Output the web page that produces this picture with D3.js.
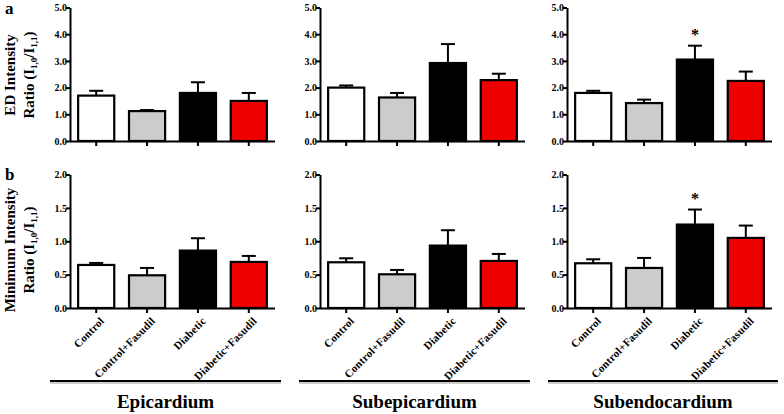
<!DOCTYPE html>
<html>
<head>
<meta charset="utf-8">
<script src="https://cdn.jsdelivr.net/npm/d3@7"></script>
<style>
html,body{margin:0;padding:0;background:#fff;}
text{font-family:"Liberation Serif","Times New Roman",serif;font-weight:bold;}
</style>
</head>
<body>
<svg id="chart" width="784" height="414"></svg>
<script>
// ---------- data ----------
const categories = ["Control", "Control+Fasudil", "Diabetic", "Diabetic+Fasudil"];
const regions = ["Epicardium", "Subepicardium", "Subendocardium"];
const barColors = ["#ffffff", "#cccccc", "#000000", "#ee0000"];

// Row a: ED intensity ratio (mean, upper error)
const edMean = {
  Epicardium:     [1.70, 1.12, 1.80, 1.50],
  Subepicardium:  [2.00, 1.63, 2.92, 2.28],
  Subendocardium: [1.80, 1.42, 3.05, 2.25]
};
const edErr = {
  Epicardium:     [1.88, 1.16, 2.20, 1.80],
  Subepicardium:  [2.08, 1.80, 3.63, 2.52],
  Subendocardium: [1.88, 1.55, 3.57, 2.60]
};
// Row b: minimum intensity ratio
const minMean = {
  Epicardium:     [0.645, 0.49, 0.86, 0.69],
  Subepicardium:  [0.685, 0.505, 0.935, 0.705],
  Subendocardium: [0.67, 0.60, 1.25, 1.05]
};
const minErr = {
  Epicardium:     [0.675, 0.60, 1.045, 0.78],
  Subepicardium:  [0.745, 0.57, 1.165, 0.81],
  Subendocardium: [0.73, 0.75, 1.475, 1.235]
};
const edTicks = [0, 1, 2, 3, 4, 5];
const minTicks = [0, 0.5, 1.0, 1.5, 2.0];
// significance markers: [region, category index]
const edStars = [["Subendocardium", 2]];
const minStars = [["Subendocardium", 2]];

// ---------- layout ----------
const svg = d3.select("#chart");
const axisXs = [70, 320, 567];
const plotW = 205;
const rows = [
  {mean: edMean, err: edErr, ticks: edTicks, domain: [0, 5], range: [141, 7.5], fmt: d3.format(".1f"), stars: edStars, labels: false},
  {mean: minMean, err: minErr, ticks: minTicks, domain: [0, 2], range: [308, 174.5], fmt: d3.format(".1f"), stars: minStars, labels: true}
];

rows.forEach(row => {
  const y = d3.scaleLinear().domain(row.domain).range(row.range);
  regions.forEach((reg, ci) => {
    const x0 = axisXs[ci];
    const x = d3.scaleBand().domain(categories).range([x0, x0 + plotW])
      .paddingInner(0.29).paddingOuter(0.16);
    const g = svg.append("g");

    // bars
    g.selectAll("rect.bar").data(categories).join("rect")
      .attr("x", d => x(d))
      .attr("width", x.bandwidth())
      .attr("y", (d, i) => y(row.mean[reg][i]))
      .attr("height", (d, i) => y(0) - y(row.mean[reg][i]))
      .attr("fill", (d, i) => barColors[i])
      .attr("stroke", "#000").attr("stroke-width", 2.2);

    // error bars (upper only)
    const cap = 14;
    categories.forEach((c, i) => {
      const cx = x(c) + x.bandwidth() / 2;
      g.append("line").attr("x1", cx).attr("x2", cx)
        .attr("y1", y(row.mean[reg][i])).attr("y2", y(row.err[reg][i]))
        .attr("stroke", "#000").attr("stroke-width", 2);
      g.append("line").attr("x1", cx - cap / 2).attr("x2", cx + cap / 2)
        .attr("y1", y(row.err[reg][i])).attr("y2", y(row.err[reg][i]))
        .attr("stroke", "#000").attr("stroke-width", 2);
    });

    // stars
    row.stars.filter(s => s[0] === reg).forEach(s => {
      const c = categories[s[1]];
      g.append("text").attr("x", x(c) + x.bandwidth() / 2)
        .attr("y", y(row.err[reg][s[1]]) - 6)
        .attr("text-anchor", "middle").attr("font-size", 16).text("*");
    });

    // y axis
    const ya = d3.axisLeft(y).tickValues(row.ticks).tickFormat(row.fmt).tickSize(4).tickSizeOuter(0);
    const yg = g.append("g").attr("transform", `translate(${x0},0)`).call(ya);
    yg.select(".domain").attr("stroke-width", 2);
    yg.selectAll(".tick line").attr("stroke-width", 2);
    yg.selectAll(".tick text").attr("font-size", 10).attr("x", -3)
      .style("font-family", "'Liberation Serif'").style("font-weight", "bold");

    // x axis
    const xa = d3.axisBottom(x).tickSize(5).tickSizeOuter(0).tickFormat(row.labels ? (d => d) : "");
    const xg = g.append("g").attr("transform", `translate(0,${y(0)})`).call(xa);
    xg.select(".domain").attr("stroke-width", 2).attr("d", `M${x0},0.5H${x0 + plotW}`);
    xg.selectAll(".tick line").attr("stroke-width", 2);
    if (row.labels) {
      xg.selectAll(".tick text")
        .attr("font-size", 11)
        .attr("letter-spacing", 0.2)
        .style("font-family", "'Liberation Serif'").style("font-weight", "bold")
        .attr("text-anchor", "end")
        .attr("dy", "0.35em")
        .attr("x", 0).attr("y", 0)
        .attr("transform", "translate(6,11) rotate(-45)");
    }
  });
});

// group lines and titles
const groupLines = [[50, 281], [299, 530], [548, 778]];
regions.forEach((reg, i) => {
  const [a, b] = groupLines[i];
  svg.append("line").attr("x1", a).attr("x2", b).attr("y1", 383).attr("y2", 383)
    .attr("stroke", "#ccc").attr("stroke-width", 2);
  svg.append("line").attr("x1", a).attr("x2", b).attr("y1", 381).attr("y2", 381)
    .attr("stroke", "#000").attr("stroke-width", 2);
  svg.append("text").attr("x", (a + b) / 2).attr("y", 408)
    .attr("text-anchor", "middle").attr("font-size", 19).text(reg);
});

// panel letters
svg.append("text").attr("x", 5).attr("y", 14).attr("font-size", 17).text("a");
svg.append("text").attr("x", 5).attr("y", 180).attr("font-size", 17).text("b");

// y axis titles
function yTitle(line1, cy) {
  svg.append("text").attr("transform", `translate(15,${cy}) rotate(-90)`)
    .attr("text-anchor", "middle").attr("font-size", 15).text(line1);
  const t2 = svg.append("text").attr("transform", `translate(34,${cy}) rotate(-90)`)
    .attr("text-anchor", "middle").attr("font-size", 15);
  t2.append("tspan").text("Ratio (I");
  t2.append("tspan").attr("font-size", 9).attr("dy", 3).text("1,0");
  t2.append("tspan").attr("dy", -3).text("/I");
  t2.append("tspan").attr("font-size", 9).attr("dy", 3).text("1,1");
  t2.append("tspan").attr("dy", -3).text(")");
}
yTitle("ED Intensity", 75);
yTitle("Minimum Intensity", 250);
</script>
</body>
</html>
